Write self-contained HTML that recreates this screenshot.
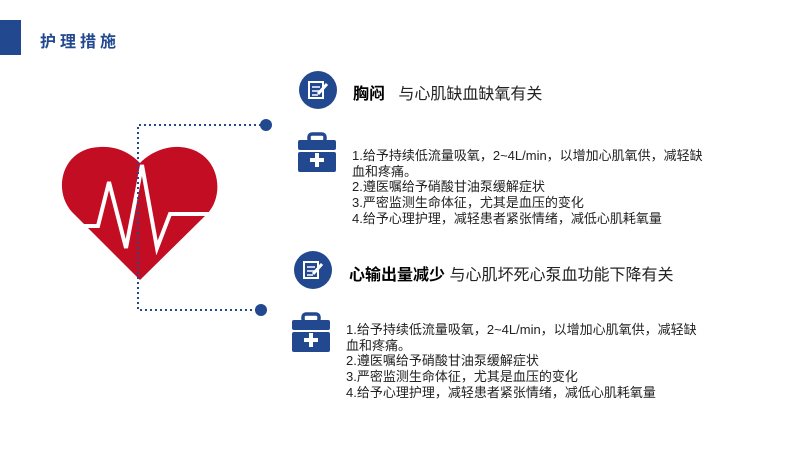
<!DOCTYPE html>
<html><head><meta charset="utf-8"><style>
body{margin:0;width:800px;height:450px;background:#fff;position:relative;overflow:hidden;font-family:"Liberation Sans","Noto Sans CJK SC",sans-serif}
.abs{position:absolute}
.title{left:40px;top:28px;font-size:16px;font-weight:bold;color:#22498f;letter-spacing:4px}
.h{font-size:16px;color:#222;white-space:nowrap}
.h b{color:#000}
.body{font-size:13px;line-height:15.7px;color:#222;white-space:nowrap}
</style></head><body>
<div class="abs" style="left:0;top:20px;width:21px;height:35px;background:#22498f"></div>
<div class="abs title">护理措施</div>
<svg class="abs" style="left:0;top:0" width="800" height="450">
<path d="M140,280 L72,212 C52,190 62,148 100,147 C120,146 132,155 140,163 C148,155 162,146 180,147 C220,150 226,195 207,214 Z" fill="#c30d23"/>
<polyline points="80,226 98,226 109,182 126,248 142,165 157,248 170,214 210,214" fill="none" stroke="#fff" stroke-width="4" stroke-linejoin="miter"/>
<path d="M266,125 H138 V310 H261" fill="none" stroke="#22498f" stroke-width="2" stroke-dasharray="2,3"/>
<circle cx="266" cy="125" r="6" fill="#22498f"/>
<circle cx="261" cy="310" r="6" fill="#22498f"/>
<g transform="translate(318,90)">
<circle r="19" fill="#22498f"/>
<rect x="-9" y="-8" width="14" height="16" fill="none" stroke="#fff" stroke-width="2"/>
<line x1="-6" y1="-3" x2="2" y2="-3" stroke="#fff" stroke-width="1.5"/><line x1="-6" y1="1" x2="2" y2="1" stroke="#fff" stroke-width="1.5"/><line x1="-6" y1="5" x2="0" y2="5" stroke="#fff" stroke-width="1.5"/>
<line x1="0" y1="4" x2="9" y2="-6" stroke="#fff" stroke-width="3"/>
</g>
<g transform="translate(313,270)">
<circle r="19" fill="#22498f"/>
<rect x="-9" y="-8" width="14" height="16" fill="none" stroke="#fff" stroke-width="2"/>
<line x1="-6" y1="-3" x2="2" y2="-3" stroke="#fff" stroke-width="1.5"/><line x1="-6" y1="1" x2="2" y2="1" stroke="#fff" stroke-width="1.5"/><line x1="-6" y1="5" x2="0" y2="5" stroke="#fff" stroke-width="1.5"/>
<line x1="0" y1="4" x2="9" y2="-6" stroke="#fff" stroke-width="3"/>
</g>
<g transform="translate(298,134)">
<rect x="11" y="0" width="16" height="8" rx="3" fill="none" stroke="#22498f" stroke-width="3.5"/>
<rect x="0" y="6" width="38" height="10" rx="2" fill="#22498f"/>
<rect x="0" y="18" width="38" height="20" rx="2" fill="#22498f"/>
<rect x="17" y="19" width="4" height="14" fill="#fff"/><rect x="12" y="24" width="14" height="4" fill="#fff"/>
</g>
<g transform="translate(292,314)">
<rect x="11" y="0" width="16" height="8" rx="3" fill="none" stroke="#22498f" stroke-width="3.5"/>
<rect x="0" y="6" width="38" height="10" rx="2" fill="#22498f"/>
<rect x="0" y="18" width="38" height="20" rx="2" fill="#22498f"/>
<rect x="17" y="19" width="4" height="14" fill="#fff"/><rect x="12" y="24" width="14" height="4" fill="#fff"/>
</g>
</svg>
<div class="abs h" style="left:353px;top:80px"><b>胸闷</b>&nbsp;&nbsp; 与心肌缺血缺氧有关</div>
<div class="abs body" style="left:352px;top:148px">1.给予持续低流量吸氧，2~4L/min，以增加心肌氧供，减轻缺<br>血和疼痛。<br>2.遵医嘱给予硝酸甘油泵缓解症状<br>3.严密监测生命体征，尤其是血压的变化<br>4.给予心理护理，减轻患者紧张情绪，减低心肌耗氧量</div>
<div class="abs h" style="left:349px;top:261px"><b>心输出量减少</b> 与心肌坏死心泵血功能下降有关</div>
<div class="abs body" style="left:346px;top:322px">1.给予持续低流量吸氧，2~4L/min，以增加心肌氧供，减轻缺<br>血和疼痛。<br>2.遵医嘱给予硝酸甘油泵缓解症状<br>3.严密监测生命体征，尤其是血压的变化<br>4.给予心理护理，减轻患者紧张情绪，减低心肌耗氧量</div>
</body></html>
